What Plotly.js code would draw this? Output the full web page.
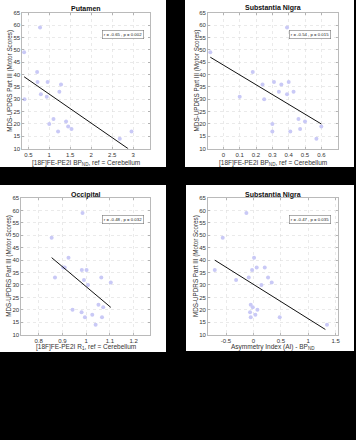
<!DOCTYPE html>
<html>
<head>
<meta charset="utf-8">
<script src="https://cdn.plot.ly/plotly-3.0.1.min.js"></script>
<style>html,body{margin:0;padding:0;background:#000;}#chart{width:356px;height:440px;}</style>
</head>
<body>
<div id="chart"></div>
<script>
// ---- data ----
const putamen_x = [0.78,0.40,0.71,0.72,0.96,1.28,0.80,0.94,1.24,0.41,1.10,1.00,1.40,1.45,1.53,1.21,2.68,2.96];
const putamen_y = [59,49,41,37,37,36,32,31,33,30,22,20,21,19,18,17,14,17];
const putamen_fit_x = [0.40, 2.88];
const putamen_fit_y = [39.1, 10.0];

const sn_x = [-0.08,0.39,0.18,0.10,0.24,0.25,0.31,0.355,0.34,0.40,0.39,0.43,0.30,0.30,0.41,0.46,0.50,0.47,0.57,0.60];
const sn_y = [49,59,41,31,36,30,37,36,33,37,32,33,20,17,17,22,21,18,14,19];
const sn_fit_x = [-0.08, 0.60];
const sn_fit_y = [47.0, 20.0];

const occ_x = [0.855,0.985,0.926,0.904,0.910,0.869,0.982,1.002,0.991,1.008,1.064,1.104,0.943,0.981,0.995,1.026,1.040,1.052,1.072,1.067];
const occ_y = [49,59,41,37,37,33,36,36,32,30,33,31,20,19,17,18,14,22,21,17];
const occ_fit_x = [0.855, 1.104];
const occ_fit_y = [41.0, 21.0];

const ai_x = [-0.128,-0.56,-0.705,-0.316,0.012,0.06,0.207,-0.024,-0.085,0.267,0.146,0.334,-0.049,-0.012,-0.061,0.073,0.036,-0.049,0.48,1.343];
const ai_y = [59,49,36,32,41,37,37,36,33,33,30,31,22,21,19,20,18,17,17,14];
const ai_fit_x = [-0.705, 1.313];
const ai_fit_y = [40.0, 12.1];

const panel_titles = ["Putamen", "Substantia Nigra", "Occipital", "Substantia Nigra"];
const x_titles = ["[18F]FE-PE2I BP<sub>ND</sub>, ref = Cerebellum",
                  "[18F]FE-PE2I BP<sub>ND</sub>, ref = Cerebellum",
                  "[18F]FE-PE2I R<sub>1</sub>, ref = Cerebellum",
                  "Asymmetry Index (AI) - BP<sub>ND</sub>"];
const y_title = "MDS-UPDRS Part III (Motor Scores)";
const stats = ["r = -0.65 , p = 0.002", "r = -0.54 , p = 0.015", "r = -0.48 , p = 0.032", "r = -0.47 , p = 0.035"];

const y_ticks = [10,15,20,25,30,35,40,45,50,55,60,65];
const x_ticks_putamen = [0.5,1,1.5,2,2.5,3];
const x_ticks_sn = [0,0.1,0.2,0.3,0.4,0.5,0.6];
const x_ticks_occ = [0.8,0.9,1,1.1,1.2];
const x_ticks_ai = [-0.5,0,0.5,1,1.5];

// ---- layout helpers ----
const W = 356, H = 440;
const px = v => v / W;
const py = v => 1 - v / H;

const series = [
  [putamen_x, putamen_y, putamen_fit_x, putamen_fit_y],
  [sn_x, sn_y, sn_fit_x, sn_fit_y],
  [occ_x, occ_y, occ_fit_x, occ_fit_y],
  [ai_x, ai_y, ai_fit_x, ai_fit_y]
];
const xticksAll = [x_ticks_putamen, x_ticks_sn, x_ticks_occ, x_ticks_ai];
const xranges = [[0.35, 3.4], [-0.096, 0.704], [0.726, 1.269], [-0.834, 1.549]];
// plot areas in pixels: [left, right, top, bottom]
const areas = [[22, 150, 12.7, 148.7], [207.7, 338.3, 12.7, 148.7], [21, 150, 198, 334.7], [207.7, 338.3, 198, 334.7]];
const panels = [[0, 166, 0, 167], [185, 354, 0, 167], [0, 166, 185, 352], [186, 354, 185, 351]];
const titleY = [8.5, 8.5, 194.5, 194.5];
const xTitleY = [162.5, 162.5, 346.5, 346.5];
const yTitleX = [10, 196.7, 9.5, 196.7];
const statPos = [[122.5, 34], [309.8, 34], [122.5, 219.7], [309.8, 219.7]];

const traces = [];
const layout = {
  width: W, height: H,
  margin: {l: 0, r: 0, t: 0, b: 0},
  paper_bgcolor: '#000000',
  plot_bgcolor: '#ffffff',
  showlegend: false,
  font: {family: 'Liberation Sans, Arial, sans-serif', color: '#262626', size: 6},
  shapes: [],
  annotations: []
};

series.forEach((s, i) => {
  const n = i + 1;
  const xa = 'x' + (n === 1 ? '' : n), ya = 'y' + (n === 1 ? '' : n);
  traces.push({x: s[0], y: s[1], type: 'scatter', mode: 'markers', xaxis: xa, yaxis: ya,
    marker: {size: 4, color: '#c9c9f6', line: {width: 0}}, hoverinfo: 'none'});
  traces.push({x: s[2], y: s[3], type: 'scatter', mode: 'lines', xaxis: xa, yaxis: ya,
    line: {color: '#111111', width: 1}, hoverinfo: 'none'});
  const a = areas[i];
  const axCommon = {showline: true, linecolor: '#8c8c8c', linewidth: 0.6, mirror: 'ticks',
    ticks: 'inside', ticklen: 2, tickcolor: '#8c8c8c', tickwidth: 0.6,
    showgrid: true, gridcolor: '#dcdcdc', griddash: 'dot', gridwidth: 0.6,
    zeroline: false, tickfont: {size: 6, color: '#333333'}, fixedrange: true};
  layout['xaxis' + (n === 1 ? '' : n)] = Object.assign({}, axCommon, {
    domain: [px(a[0]), px(a[1])], anchor: ya, range: xranges[i],
    tickmode: 'array', tickvals: xticksAll[i], ticktext: xticksAll[i].map(String)});
  layout['yaxis' + (n === 1 ? '' : n)] = Object.assign({}, axCommon, {
    domain: [py(a[3]), py(a[2])], anchor: xa, range: [10, 65],
    tickmode: 'array', tickvals: y_ticks, ticktext: y_ticks.map(String)});
  const p = panels[i];
  layout.shapes.push({type: 'rect', xref: 'paper', yref: 'paper', layer: 'below',
    x0: px(p[0]), x1: px(p[1]), y0: py(p[3]), y1: py(p[2]),
    fillcolor: '#ffffff', line: {width: 0}});
  const cx = (a[0] + a[1]) / 2, cy = (a[2] + a[3]) / 2;
  layout.annotations.push({text: '<b>' + panel_titles[i] + '</b>', xref: 'paper', yref: 'paper',
    x: px(cx), y: py(titleY[i]), xanchor: 'center', yanchor: 'middle', showarrow: false,
    font: {size: 7, color: '#111111'}});
  layout.annotations.push({text: x_titles[i], xref: 'paper', yref: 'paper',
    x: px(cx), y: py(xTitleY[i]), xanchor: 'center', yanchor: 'middle', showarrow: false,
    font: {size: 6.5, color: '#333333'}});
  layout.annotations.push({text: y_title, xref: 'paper', yref: 'paper', textangle: -90,
    x: px(yTitleX[i]), y: py(cy), xanchor: 'center', yanchor: 'middle', showarrow: false,
    font: {size: 6.3, color: '#333333'}});
  layout.annotations.push({text: stats[i], xref: 'paper', yref: 'paper',
    x: px(statPos[i][0]), y: py(statPos[i][1]), xanchor: 'center', yanchor: 'middle', showarrow: false,
    font: {size: 4.3, color: '#222222'}, bgcolor: '#ffffff', bordercolor: '#777777', borderwidth: 0.6, borderpad: 1.2});
});

Plotly.newPlot('chart', traces, layout, {staticPlot: true, displayModeBar: false});
</script>
</body>
</html>
